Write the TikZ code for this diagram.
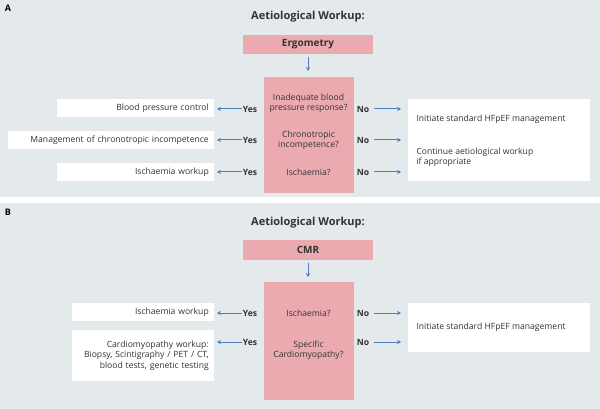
\documentclass[tikz,border=0pt]{standalone}
\usepackage{fontspec}
\setmainfont{Open Sans}
\usetikzlibrary{arrows.meta}
\definecolor{bg}{HTML}{E4E9EC}
\definecolor{pk}{HTML}{EBAAB0}
\definecolor{ab}{HTML}{4A7FC0}
\begin{document}
\begin{tikzpicture}[x=1pt,y=-1pt,
  txt/.style={font=\fontsize{8.6}{10.4}\selectfont,text=black!80},
  wbox/.style={fill=white,minimum height=18pt,inner xsep=5pt,inner ysep=3pt,txt,anchor=east,align=right},
  pbox/.style={fill=pk,txt,align=center},
  ttl/.style={font=\fontsize{11}{13}\selectfont\bfseries,text=black!80},
  arr/.style={-{Stealth[length=4pt,width=4pt]},ab,line width=1pt},
  lbl/.style={txt,font=\fontsize{8.6}{10.4}\selectfont\bfseries,inner sep=1pt}]
\useasboundingbox (0,0) rectangle (600,409);
\fill[bg] (0,0) rectangle (600,197);
\fill[bg] (0,203) rectangle (600,409);
% Panel A
\node[font=\bfseries\fontsize{9}{10}\selectfont] (la) at (8,8) {A};
\node[ttl] (ta) at (308,17) {Aetiological Workup:};
\node[pbox,minimum width=130pt,minimum height=19pt,font=\fontsize{10}{12}\selectfont\bfseries] (erg) at (308,44.5) {Ergometry};
\node[pbox,minimum width=90pt,minimum height=116pt] (qa) at (308.5,135) {};
\draw[arr] (erg.south)++(0,3) coordinate (e1) -- (308,71) coordinate (e2);
\node[txt,align=center] (q1) at (308.5,103) {Inadequate blood\\pressure response?};
\node[txt,align=center] (q2) at (308.5,140) {Chronotropic\\incompetence?};
\node[txt] (q3) at (308.5,172) {Ischaemia?};
\node[wbox,text width=147pt] (a1) at (214,108) {Blood pressure control};
\node[wbox,text width=196pt] (a2) at (214,140) {Management of chronotropic incompetence};
\node[wbox,text width=147pt] (a3) at (214,172) {Ischaemia workup};
\node[fill=white,minimum width=182pt,minimum height=82pt] (ra) at (499,140) {};
\node[txt,anchor=west] (r1) at (413,119) {Initiate standard HFpEF management};
\node[txt,anchor=west,align=left] (r2) at (413,157) {Continue aetiological workup\\if appropriate};
\foreach \i/\y in {1/109,2/140,3/172}{
  \node[lbl] (y\i) at (250,\y) {Yes};
  \draw[arr] (y\i.west) -- ([xshift=3pt]a\i.east|-y\i);
  \node[lbl] (n\i) at (363,\y) {No};
  \draw[arr] (n\i.east)++(4,0) coordinate (c\i) -- (401,\y) coordinate (d\i);
}
% Panel B
\node[font=\bfseries\fontsize{9}{10}\selectfont] (lb) at (8,212) {B};
\node[ttl] (tb) at (308,223) {Aetiological Workup:};
\node[pbox,minimum width=130pt,minimum height=20pt,font=\fontsize{10}{12}\selectfont\bfseries] (cmr) at (308,250) {CMR};
\node[pbox,minimum width=90pt,minimum height=118pt] (qb) at (308.5,341) {};
\draw[arr] (cmr.south)++(0,3) coordinate (f1) -- (308,277) coordinate (f2);
\node[txt] (p1) at (308.5,313) {Ischaemia?};
\node[txt,align=center] (p2) at (308.5,350) {Specific\\Cardiomyopathy?};
\node[wbox,text width=132pt] (b1) at (214,312) {Ischaemia workup};
\node[wbox,text width=132pt,minimum height=51pt] (b2) at (214,355.5) {Cardiomyopathy workup:\\Biopsy, Scintigraphy / PET / CT,\\blood tests, genetic testing};
\node[fill=white,minimum width=182pt,minimum height=49pt] (rb) at (499,327.5) {};
\node[txt,anchor=west] (rb1) at (413,327) {Initiate standard HFpEF management};
\foreach \i/\y in {1/313,2/342}{
  \node[lbl] (yb\i) at (250,\y) {Yes};
  \draw[arr] (yb\i.west) -- ([xshift=3pt]b\i.east|-yb\i);
  \node[lbl] (nb\i) at (363,\y) {No};
  \draw[arr] (nb\i.east)++(4,0) coordinate (g\i) -- (401,\y) coordinate (h\i);
}
\end{tikzpicture}
\end{document}
